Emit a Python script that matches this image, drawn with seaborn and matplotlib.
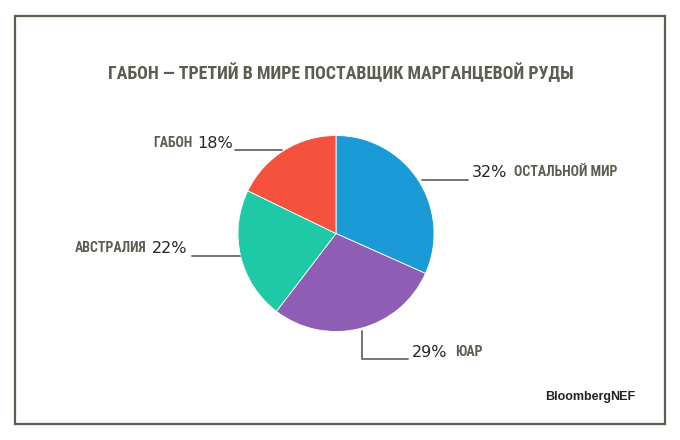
import matplotlib
matplotlib.use("Agg")
import matplotlib.pyplot as plt
import seaborn as sns
from matplotlib import font_manager as fm

regions = ["ОСТАЛЬНОЙ МИР", "ЮАР", "АВСТРАЛИЯ", "ГАБОН"]
shares = [32, 29, 22, 18]
colors = ["#1a9ad6", "#8e5eb4", "#1ec9a7", "#f5523e"]
title = "ГАБОН — ТРЕТИЙ В МИРЕ ПОСТАВЩИК МАРГАНЦЕВОЙ РУДЫ"

sns.set_theme(style="white")
names = {f.name for f in fm.fontManager.ttflist}
cond = "Roboto"
for cand in ["Liberation Sans Narrow", "DejaVu Sans Condensed", "Roboto Condensed",
             "Open Sans Condensed", "Roboto", "Liberation Sans"]:
    if cand in names:
        cond = cand
        break
plt.rcParams["font.family"] = ["DejaVu Sans"]

W, H = 680, 440
fig = plt.figure(figsize=(6.8, 4.4), dpi=100)
ax = fig.add_axes([0, 0, 1, 1])
ax.set_xlim(0, W)
ax.set_ylim(0, H)
ax.set_aspect("equal")
ax.axis("off")
renderer = fig.canvas.get_renderer()

def Y(y):
    return H - y

def fit(t, width, maxsize):
    ext = t.get_window_extent(renderer=renderer)
    fs = t.get_fontsize() * width / ext.width
    t.set_fontsize(min(fs, maxsize))
    return t

# border
ax.plot([15, 665, 665, 15, 15], [Y(16), Y(16), Y(424), Y(424), Y(16)],
        color="#5b5e50", lw=1.6, solid_joinstyle="miter")

olive = "#5b5e50"
dark = "#262626"
t = ax.text(341, Y(73), title, ha="center", va="center", fontsize=18,
            family=cond, fontweight="bold", color=olive)
fit(t, 468, 18)

ax.pie(shares, colors=colors, startangle=90, counterclock=False,
       center=(336, Y(233.5)), radius=98,
       wedgeprops=dict(linewidth=0.6, edgecolor="white"))
ax.set_xlim(0, W)
ax.set_ylim(0, H)

lc = "#6a6a6a"
lw = 1.3
psize = 11.5
lsize = 10

def lab(x, y, s, ha):
    ax.text(x, Y(y), s, ha=ha, va="center", fontsize=lsize,
            family=cond, fontweight="bold", color=olive)

# Габон
lab(193, 143, regions[3], "right")
ax.text(197, Y(143), f"{shares[3]}%", ha="left", va="center", fontsize=psize, color=dark)
ax.plot([235, 282], [Y(150), Y(150)], color=lc, lw=lw)
# Остальной мир
ax.plot([422, 468], [Y(180), Y(180)], color=lc, lw=lw)
ax.text(472, Y(172), f"{shares[0]}%", ha="left", va="center", fontsize=psize, color=dark)
lab(514, 172, regions[0], "left")
# Австралия
lab(147, 248, regions[2], "right")
ax.text(152, Y(248), f"{shares[2]}%", ha="left", va="center", fontsize=psize, color=dark)
ax.plot([192, 240], [Y(256), Y(256)], color=lc, lw=lw)
# ЮАР
ax.plot([362, 362, 408], [Y(331), Y(359), Y(359)], color=lc, lw=lw)
ax.text(412, Y(352), f"{shares[1]}%", ha="left", va="center", fontsize=psize, color=dark)
lab(455, 352, regions[1], "left")

# source
ax.text(545, Y(397), "Bloomberg", ha="left", va="center", fontsize=9,
        fontweight="bold", color="#222222", family="Liberation Sans")
ax.text(610, Y(397), "NEF", ha="left", va="center", fontsize=9,
        fontweight="bold", color="#222222", family="Liberation Sans")

fig.savefig("out.png", dpi=100, facecolor="white")
